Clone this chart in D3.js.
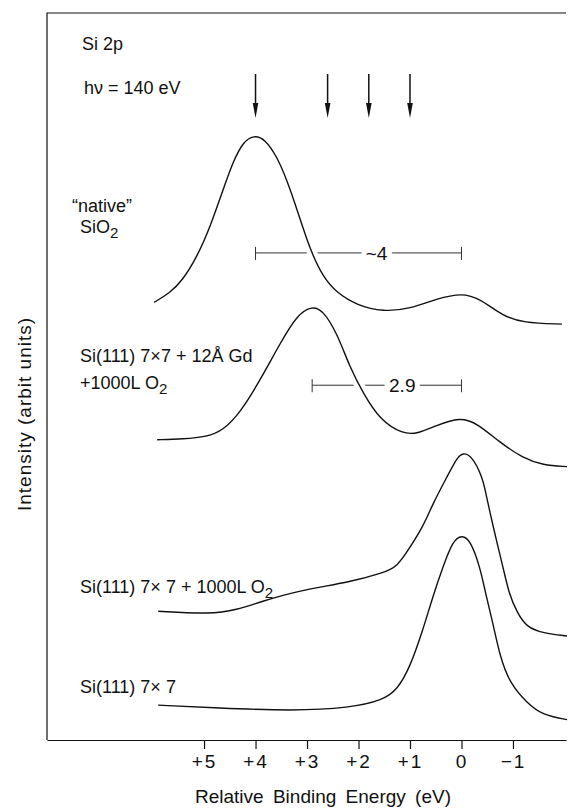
<!DOCTYPE html>
<html>
<head>
<meta charset="utf-8">
<script src="https://cdn.jsdelivr.net/npm/d3@7"></script>
<style>
  body { margin: 0; background: #fff; }
  text { font-family: "Liberation Sans", Arial, sans-serif; fill: #111; }
</style>
</head>
<body>
<div id="chart"></div>
<script>
// x axis ticks (relative binding energy, eV)
const energyTicks = [5, 4, 3, 2, 1, 0, -1]

// spectra: energy (eV) and intensity (arbitrary units, offset as plotted)
const sio2E = [5.97, 5.66, 5.41, 5.14, 4.88, 4.63, 4.44, 4.24, 4.03, 3.82, 3.58, 3.39, 3.19, 2.94, 2.69, 2.42, 2.03, 1.52, 1.00, 0.48, -0.01, -0.36, -0.81, -1.19, -1.95]
const sio2I = [60.2, 61.5, 63.3, 66.4, 70.6, 75.7, 79.5, 82.3, 83.2, 82.7, 80.2, 77.0, 72.9, 67.4, 63.7, 61.5, 59.8, 58.9, 59.3, 60.7, 61.5, 60.7, 58.3, 57.4, 57.2]

const gdE = [5.91, 5.41, 4.94, 4.63, 4.30, 3.91, 3.52, 3.19, 2.90, 2.69, 2.42, 2.17, 1.91, 1.58, 1.14, 0.86, 0.48, 0.03, -0.30, -0.75, -1.19, -1.58, -2.05]
const gdI = [41.3, 41.4, 41.7, 42.6, 45.0, 49.5, 54.6, 58.5, 59.7, 59.1, 56.0, 51.3, 47.7, 44.0, 42.1, 42.1, 43.3, 44.4, 43.6, 40.9, 38.8, 37.8, 37.6]

const oxE = [5.89, 4.88, 4.36, 3.91, 3.14, 2.17, 1.52, 1.25, 1.00, 0.75, 0.55, 0.28, 0.09, -0.03, -0.22, -0.40, -0.46, -0.55, -0.69, -0.81, -0.92, -1.08, -1.27, -1.58, -2.05]
const oxI = [17.7, 17.3, 17.9, 19.0, 20.6, 21.7, 23.0, 23.8, 26.5, 29.3, 32.6, 36.2, 38.8, 39.6, 38.9, 36.2, 34.4, 31.4, 27.1, 23.7, 20.2, 17.5, 15.5, 14.7, 14.3]

const cleanE = [5.89, 4.75, 3.27, 2.17, 1.52, 1.25, 1.00, 0.75, 0.55, 0.36, 0.17, -0.01, -0.17, -0.36, -0.46, -0.61, -0.75, -0.94, -1.27, -1.58, -2.05]
const cleanI = [4.8, 4.4, 4.0, 4.4, 5.5, 6.9, 10.0, 15.1, 19.9, 23.8, 27.4, 28.2, 27.5, 23.8, 20.4, 16.1, 11.4, 7.8, 5.1, 3.4, 2.8]

// arrows marking component energies
const arrowE = [4.0, 2.6, 1.8, 1.0]

// splitting brackets
const splitFrom = [4.0, 2.9]
const splitTo = [0.0, 0.0]
const splitLabel = ["~4", "2.9"]
const splitLabelE = [1.65, 1.15]
const splitLevel = [67.0, 48.8]

const width = 569, height = 808

const svg = d3.select("#chart")
  .append("svg")
    .attr("width", width)
    .attr("height", height)

const x = d3.scaleLinear().domain([8.05, -2.03]).range([47, 566])
const y = d3.scaleLinear().domain([0, 100]).range([740, 13])

// frame: top and left edges
svg.append("path")
  .attr("d", `M${x.range()[1]},${y.range()[1]}H${x.range()[0]}V${y.range()[0]}`)
  .attr("fill", "none")
  .attr("stroke", "#111")
  .attr("stroke-width", 1.2)

// bottom axis
const fmt = d => d > 0 ? "+" + d : d < 0 ? "\u2212" + Math.abs(d) : "0"
const xAxis = svg.append("g")
  .attr("transform", `translate(0,${y(0)})`)
  .call(d3.axisBottom(x).tickValues(energyTicks).tickFormat(fmt).tickSize(9).tickSizeOuter(0).tickPadding(6))
xAxis.attr("font-size", 19).attr("font-family", null)
xAxis.selectAll("path, line").attr("stroke", "#111").attr("stroke-width", 1.2)
xAxis.selectAll("text").attr("letter-spacing", 2)

svg.append("text")
  .attr("x", 323).attr("y", 803)
  .attr("text-anchor", "middle")
  .attr("font-size", 19)
  .attr("word-spacing", 4)
  .text("Relative Binding Energy (eV)")

svg.append("text")
  .attr("transform", "translate(31,414) rotate(-90)")
  .attr("text-anchor", "middle")
  .attr("font-size", 19)
  .attr("letter-spacing", 1)
  .text("Intensity (arbit units)")

// splitting brackets
splitFrom.forEach((e0, i) => {
  const g = svg.append("g").attr("stroke", "#333").attr("stroke-width", 1)
  const yy = y(splitLevel[i])
  g.append("line").attr("x1", x(e0)).attr("x2", x(splitTo[i])).attr("y1", yy).attr("y2", yy)
  g.append("line").attr("x1", x(e0)).attr("x2", x(e0)).attr("y1", yy - 6).attr("y2", yy + 7)
  g.append("line").attr("x1", x(splitTo[i])).attr("x2", x(splitTo[i])).attr("y1", yy - 6).attr("y2", yy + 7)
  svg.append("text")
    .attr("x", x(splitLabelE[i])).attr("y", yy + 7)
    .attr("text-anchor", "middle")
    .attr("font-size", 19)
    .attr("stroke", "#fff").attr("stroke-width", 10).attr("paint-order", "stroke")
    .text(splitLabel[i])
})

// spectra
const spectra = [
  d3.zip(sio2E, sio2I),
  d3.zip(gdE, gdI),
  d3.zip(oxE, oxI),
  d3.zip(cleanE, cleanI)
]
const line = d3.line()
  .x(d => x(d[0]))
  .y(d => y(d[1]))
  .curve(d3.curveBasis)

svg.append("g")
  .selectAll("path")
  .data(spectra)
  .join("path")
    .attr("d", line)
    .attr("fill", "none")
    .attr("stroke", "#fff")
    .attr("stroke-width", 10)

svg.append("g")
  .selectAll("path")
  .data(spectra)
  .join("path")
    .attr("d", line)
    .attr("fill", "none")
    .attr("stroke", "#111")
    .attr("stroke-width", 1.4)

// arrows
const arrows = svg.append("g").selectAll("g").data(arrowE).join("g")
arrows.append("line")
  .attr("x1", d => x(d)).attr("x2", d => x(d))
  .attr("y1", 74).attr("y2", 108)
  .attr("stroke", "#111").attr("stroke-width", 1.5)
arrows.append("path")
  .attr("d", d => `M${x(d)},118L${x(d) - 2.8},103L${x(d) + 2.8},103Z`)
  .attr("fill", "#111")

// text annotations
const addLabel = (tx, ty, main, sub, rest) => {
  const t = svg.append("text").attr("x", tx).attr("y", ty).attr("font-size", 18)
  t.append("tspan").text(main)
  if (sub) t.append("tspan").attr("dy", 5).attr("font-size", 15).text(sub)
  if (rest) t.append("tspan").attr("dy", -5).text(rest)
}
addLabel(82, 50, "Si  2p")
addLabel(84, 94, "h\u03bd  =  140 eV")
addLabel(72, 212, "\u201Cnative\u201D")
addLabel(80, 233, "SiO", "2")
addLabel(80, 362, "Si(111) 7\u00d77 + 12\u00c5 Gd")
addLabel(80, 389, "+1000L O", "2")
addLabel(80, 593, "Si(111) 7\u00d7 7 + 1000L O", "2")
addLabel(80, 693, "Si(111) 7\u00d7 7")
</script>
</body>
</html>
